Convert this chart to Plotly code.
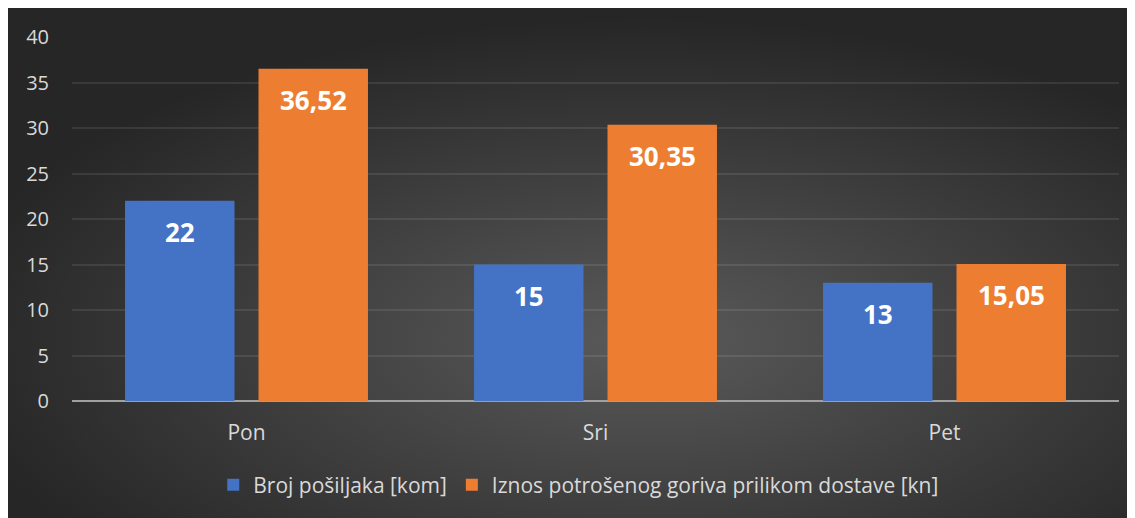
import base64
import plotly.graph_objects as go

days = ["Pon", "Sri", "Pet"]
shipments = [22, 15, 13]
fuel_cost = [36.52, 30.35, 15.05]
series_names = ["Broj pošiljaka [kom]", "Iznos potrošenog goriva prilikom dostave [kn]"]
y_ticks = [0, 5, 10, 15, 20, 25, 30, 35, 40]

blue = "#4472c4"
orange = "#ed7d31"
font = "Open Sans"

# radial dark background, drawn as an svg behind the plot
bg_svg = (
    "<svg xmlns='http://www.w3.org/2000/svg' width='1135' height='518' preserveAspectRatio='none'>"
    "<defs><radialGradient id='g' cx='0.56' cy='0.64' r='0.62'>"
    "<stop offset='0' stop-color='#5a5a5a'/><stop offset='1' stop-color='#262626'/>"
    "</radialGradient></defs><rect width='1135' height='518' fill='url(#g)'/></svg>"
)
bg_src = "data:image/svg+xml;base64," + base64.b64encode(bg_svg.encode()).decode()

fig = go.Figure()
fig.add_trace(go.Bar(x=days, y=shipments, name=series_names[0], marker=dict(color=blue, line=dict(width=0))))
fig.add_trace(go.Bar(x=days, y=fuel_cost, name=series_names[1], marker=dict(color=orange, line=dict(width=0))))

def fmt(v):
    return f"{v:.2f}".replace(".", ",") if v != int(v) else str(int(v))

half_slot = 66.75
for vals, shift in [(shipments, -half_slot), (fuel_cost, half_slot)]:
    for d, v in zip(days, vals):
        fig.add_annotation(x=d, y=v, text=fmt(v), showarrow=False, xshift=shift, yshift=-31,
                           yanchor="middle", font=dict(family=font, size=26, color="white", weight="bold"))

# plot area: x 64..1111, y 29..393 in figure pixels
fig.add_layout_image(source=bg_src, xref="paper", yref="paper", x=-64 / 1047, y=393 / 364,
                     sizex=1135 / 1047, sizey=518 / 364, sizing="stretch", layer="below",
                     xanchor="left", yanchor="top")

fig.update_layout(
    width=1135, height=518,
    margin=dict(l=64, r=24, t=29, b=125),
    paper_bgcolor="#2b2b2b", plot_bgcolor="rgba(0,0,0,0)",
    barmode="group", bargap=0.235, bargroupgap=0.18,
    font=dict(family=font, size=20, color="#d9d9d9"),
    showlegend=True,
    legend=dict(orientation="h", x=0.484, xanchor="center", y=-0.231, yanchor="middle",
                font=dict(size=21, color="#d9d9d9"), itemwidth=30, bgcolor="rgba(0,0,0,0)"),
    xaxis=dict(showgrid=False, showline=False, zeroline=False, ticks="", ticklabelstandoff=17,
               tickfont=dict(size=21, color="#d9d9d9"), automargin=False),
    yaxis=dict(range=[0, 40], tickvals=y_ticks, showgrid=True, gridcolor="rgba(255,255,255,0.09)",
               gridwidth=1.5, zeroline=True, zerolinecolor="#a0a0a0", zerolinewidth=2,
               showline=False, ticks="", ticklabelstandoff=22,
               tickfont=dict(size=20, color="#d9d9d9"), automargin=False),
)

fig.write_html("out.html")
